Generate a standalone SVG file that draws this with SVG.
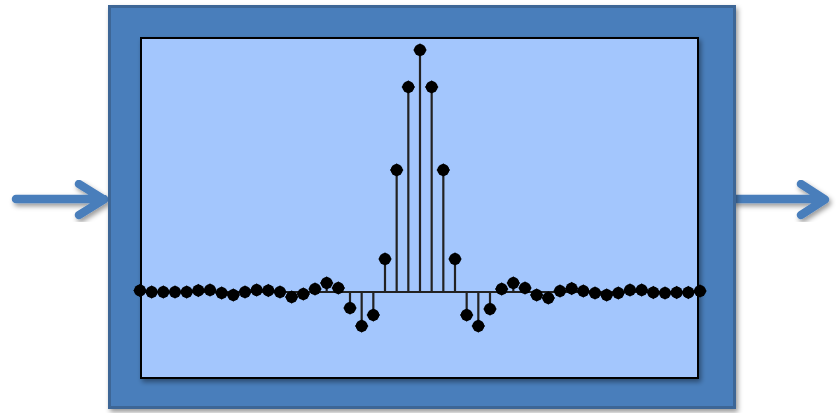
<svg xmlns="http://www.w3.org/2000/svg" xmlns:xlink="http://www.w3.org/1999/xlink" width="838" height="413" viewBox="0 0 838 413">
<style>
.arrow{fill:none;stroke:#4a7ebb;stroke-width:8.5;stroke-linecap:round;stroke-linejoin:round}
.stem{fill:none;stroke:#222;stroke-width:2.2}
.dot{fill:#000;stroke:none}
</style>
<defs>
<filter id="sh" x="-10%" y="-10%" width="130%" height="130%">
<feDropShadow dx="2" dy="3" stdDeviation="2.5" flood-color="#000" flood-opacity="0.4"/>
</filter>
<g id="d"><circle r="6"/><path d="M0,-6.8 L6.8,0 L0,6.8 L-6.8,0Z"/></g>
</defs>
<rect width="838" height="413" fill="#fff"/>
<g id="connectors" filter="url(#sh)">
<path class="arrow" d="M16,199 H104 M79,184 L104,199.5 L79,215"/>
<path class="arrow" d="M736,199 H823 M801,184 L825,199.5 L801,215"/>
</g>
<g id="block">
<rect x="109.5" y="6.5" width="625" height="401" fill="#4a7ebb" stroke="#3c6696" stroke-width="3" filter="url(#sh)"/>
</g>
<g id="plot">
<rect x="141" y="38" width="557" height="340" fill="#a3c6fd" stroke="#000" stroke-width="2" filter="url(#sh)"/>
<line class="stem" x1="140" y1="292" x2="700" y2="292"/>
<path class="stem" d="M338.33,292V288 M350,292V308 M361.67,292V326 M373.33,292V315 M385,292V259 M396.67,292V170 M408.33,292V87 M420,292V50 M431.67,292V87 M443.33,292V170 M455,292V259 M466.67,292V315 M478.33,292V326 M490,292V309 M501.67,292V289 M513.33,292V283 M525,292V288 M326.67,292V283 M315,292V289 M303.33,292V294 M291.67,292V297 M536.67,292V295 M548.33,292V298"/>
<g class="dot">
<use xlink:href="#d" x="140" y="290.5"/>
<use xlink:href="#d" x="151.67" y="292"/>
<use xlink:href="#d" x="163.33" y="292"/>
<use xlink:href="#d" x="175" y="292"/>
<use xlink:href="#d" x="186.67" y="292"/>
<use xlink:href="#d" x="198.33" y="290.5"/>
<use xlink:href="#d" x="210" y="290"/>
<use xlink:href="#d" x="221.67" y="293"/>
<use xlink:href="#d" x="233.33" y="295"/>
<use xlink:href="#d" x="245" y="292"/>
<use xlink:href="#d" x="256.67" y="290"/>
<use xlink:href="#d" x="268.33" y="290.5"/>
<use xlink:href="#d" x="280" y="292"/>
<use xlink:href="#d" x="291.67" y="297"/>
<use xlink:href="#d" x="303.33" y="294"/>
<use xlink:href="#d" x="315" y="289"/>
<use xlink:href="#d" x="326.67" y="283"/>
<use xlink:href="#d" x="338.33" y="288"/>
<use xlink:href="#d" x="350" y="308"/>
<use xlink:href="#d" x="361.67" y="326"/>
<use xlink:href="#d" x="373.33" y="315"/>
<use xlink:href="#d" x="385" y="259"/>
<use xlink:href="#d" x="396.67" y="170"/>
<use xlink:href="#d" x="408.33" y="87"/>
<use xlink:href="#d" x="420" y="50"/>
<use xlink:href="#d" x="431.67" y="87"/>
<use xlink:href="#d" x="443.33" y="170"/>
<use xlink:href="#d" x="455" y="259"/>
<use xlink:href="#d" x="466.67" y="315"/>
<use xlink:href="#d" x="478.33" y="326"/>
<use xlink:href="#d" x="490" y="309"/>
<use xlink:href="#d" x="501.67" y="289"/>
<use xlink:href="#d" x="513.33" y="283"/>
<use xlink:href="#d" x="525" y="288"/>
<use xlink:href="#d" x="536.67" y="295"/>
<use xlink:href="#d" x="548.33" y="298"/>
<use xlink:href="#d" x="560" y="291"/>
<use xlink:href="#d" x="571.67" y="288.5"/>
<use xlink:href="#d" x="583.33" y="291"/>
<use xlink:href="#d" x="595" y="293"/>
<use xlink:href="#d" x="606.67" y="295"/>
<use xlink:href="#d" x="618.33" y="293"/>
<use xlink:href="#d" x="630" y="290"/>
<use xlink:href="#d" x="641.67" y="290"/>
<use xlink:href="#d" x="653.33" y="292.5"/>
<use xlink:href="#d" x="665" y="293"/>
<use xlink:href="#d" x="676.67" y="292.5"/>
<use xlink:href="#d" x="688.33" y="292.5"/>
<use xlink:href="#d" x="700" y="291"/>
</g>
</g>
</svg>
